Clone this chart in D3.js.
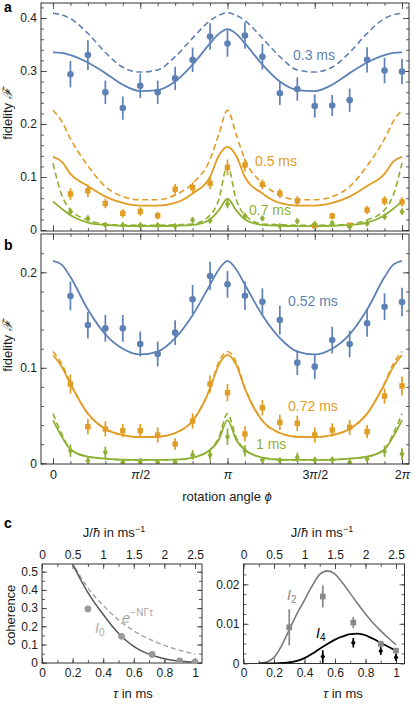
<!DOCTYPE html>
<html>
<head>
<meta charset="utf-8">
<script src="https://d3js.org/d3.v7.min.js"></script>
<style>
  body { margin: 0; background: #fff; }
  svg { display: block; font-family: "Liberation Sans", Arial, Helvetica, sans-serif; }
  .axis text { font-size: 12px; fill: #1a1a1a; font-family: "Liberation Sans", Arial, sans-serif; }
  .axis line { stroke: #333; stroke-width: 0.8; }
</style>
</head>
<body>
<div id="chart"></div>
<script>
const pi = Math.PI;

// rotation angle, in steps of pi/10
const pointSteps = [1, 2, 3, 4, 5, 6, 7, 8, 9, 10, 11, 12, 13, 14, 15, 16, 17, 18, 19, 20];
const lineSteps = [0, 0.5, 1, 2, 3, 4, 5, 6, 7, 8, 9, 9.5, 10, 10.5, 11, 12, 13, 14, 15, 16, 17, 18, 19, 19.5, 20];
const phiTicks = [0, 5, 10, 15, 20];
const phiLabels = [["0", "", ""], ["", "π", "/2"], ["", "π", ""], ["3", "π", "/2"], ["2", "π", ""]];

// panel a: 0.3 ms
const aBlue = [0.294, 0.330, 0.260, 0.230, 0.272, 0.260, 0.286, 0.321, 0.365, 0.352, 0.367, 0.327, 0.258, 0.266, 0.234, 0.235, 0.245, 0.321, 0.301, 0.299];
const aBlueErr = [0.025, 0.028, 0.022, 0.022, 0.023, 0.022, 0.022, 0.023, 0.025, 0.025, 0.025, 0.024, 0.022, 0.022, 0.022, 0.020, 0.022, 0.024, 0.024, 0.024];
const aBlueFit = [0.335, 0.334, 0.330, 0.316, 0.296, 0.274, 0.262, 0.264, 0.280, 0.312, 0.352, 0.370, 0.379, 0.370, 0.352, 0.312, 0.280, 0.264, 0.262, 0.274, 0.296, 0.316, 0.330, 0.334, 0.335];
const aBlueNoLoss = [0.409, 0.406, 0.399, 0.371, 0.335, 0.307, 0.298, 0.302, 0.327, 0.362, 0.395, 0.405, 0.410, 0.405, 0.395, 0.362, 0.327, 0.302, 0.298, 0.307, 0.335, 0.371, 0.399, 0.406, 0.409];
// panel a: 0.5 ms
const aOrange = [0.068, 0.074, 0.050, 0.0315, 0.035, 0.027, 0.077, 0.080, 0.088, 0.118, 0.1226, 0.086, 0.069, 0.055, 0.008, 0.0264, 0.009, 0.0377, 0.055, 0.053];
const aOrangeErr = [0.011, 0.012, 0.009, 0.008, 0.008, 0.007, 0.010, 0.010, 0.011, 0.015, 0.012, 0.009, 0.009, 0.009, 0.004, 0.006, 0.004, 0.008, 0.009, 0.009];
const aOrangeFit = [0.138, 0.129, 0.106, 0.083, 0.063, 0.051, 0.046, 0.046, 0.051, 0.069, 0.100, 0.140, 0.157, 0.140, 0.100, 0.069, 0.051, 0.046, 0.046, 0.051, 0.063, 0.083, 0.106, 0.129, 0.138];
const aOrangeNoLoss = [0.226, 0.205, 0.172, 0.121, 0.082, 0.063, 0.057, 0.057, 0.066, 0.088, 0.133, 0.180, 0.226, 0.180, 0.133, 0.088, 0.066, 0.057, 0.057, 0.063, 0.082, 0.121, 0.172, 0.205, 0.226];
// panel a: 0.7 ms
const aGreen = [0.0346, 0.022, 0.0094, 0.0094, 0.009, 0.009, 0.0075, 0.019, 0.0176, 0.049, 0.0264, 0.022, 0.0075, 0.0165, 0.011, 0.013, 0.0063, 0.012, 0.025, 0.0346];
const aGreenErr = [0.006, 0.006, 0.004, 0.004, 0.004, 0.004, 0.004, 0.005, 0.005, 0.008, 0.005, 0.005, 0.004, 0.005, 0.005, 0.005, 0.004, 0.004, 0.005, 0.006];
const aGreenFit = [0.054, 0.040, 0.028, 0.014, 0.0095, 0.0078, 0.0075, 0.0075, 0.008, 0.0095, 0.020, 0.037, 0.059, 0.037, 0.020, 0.0095, 0.008, 0.0075, 0.0075, 0.0078, 0.0095, 0.014, 0.028, 0.040, 0.054];
const aGreenNoLoss = [0.126, 0.066, 0.038, 0.019, 0.0113, 0.0095, 0.009, 0.009, 0.0098, 0.0113, 0.028, 0.057, 0.122, 0.057, 0.028, 0.0113, 0.0098, 0.009, 0.009, 0.0095, 0.0113, 0.019, 0.038, 0.066, 0.126];

// panel b: 0.52 ms
const bBlue = [0.1752, 0.1448, 0.1413, 0.1413, 0.1249, 0.1145, 0.1368, 0.1717, 0.1961, 0.1874, 0.1755, 0.1692, 0.150, 0.1054, 0.1012, 0.129, 0.1249, 0.1466, 0.164, 0.1689];
const bBlueErr = [0.015, 0.014, 0.014, 0.014, 0.013, 0.013, 0.013, 0.015, 0.015, 0.014, 0.015, 0.014, 0.015, 0.013, 0.013, 0.014, 0.014, 0.014, 0.014, 0.015];
const bBlueFit = [0.212, 0.208, 0.195, 0.161, 0.135, 0.120, 0.114, 0.117, 0.131, 0.155, 0.187, 0.203, 0.212, 0.203, 0.187, 0.155, 0.131, 0.117, 0.114, 0.120, 0.135, 0.161, 0.195, 0.208, 0.212];
// panel b: 0.72 ms
const bOrange = [0.083, 0.0384, 0.036, 0.0342, 0.0342, 0.0296, 0.0202, 0.0443, 0.083, 0.074, 0.0307, 0.0582, 0.0429, 0.0419, 0.0296, 0.0349, 0.0377, 0.0331, 0.0705, 0.081];
const bOrangeErr = [0.010, 0.008, 0.008, 0.007, 0.007, 0.008, 0.006, 0.008, 0.009, 0.009, 0.008, 0.008, 0.008, 0.008, 0.008, 0.007, 0.008, 0.007, 0.008, 0.010];
const bOrangeFit = [0.1134, 0.101, 0.083, 0.052, 0.036, 0.0296, 0.0275, 0.0278, 0.0317, 0.0445, 0.078, 0.103, 0.1134, 0.103, 0.078, 0.0445, 0.0317, 0.0278, 0.0275, 0.0296, 0.036, 0.052, 0.083, 0.101, 0.1134];
const bOrangeNoLoss = [0.117, 0.104, 0.084, 0.052, 0.036, 0.0296, 0.0275, 0.0278, 0.0317, 0.0445, 0.079, 0.106, 0.117, 0.106, 0.079, 0.0445, 0.0317, 0.0278, 0.0275, 0.0296, 0.036, 0.052, 0.084, 0.104, 0.117];
// panel b: 1 ms
const bGreen = [0.0132, 0.0028, 0.0115, 0.001, 0.001, 0.001, 0.001, 0.0087, 0.0087, 0.0279, 0.013, 0.0035, 0.003, 0.0063, 0.0035, 0.0038, 0.001, 0.0045, 0.0125, 0.0098];
const bGreenErr = [0.0066, 0.003, 0.006, 0.002, 0.002, 0.002, 0.002, 0.005, 0.006, 0.0087, 0.006, 0.003, 0.003, 0.005, 0.003, 0.003, 0.002, 0.003, 0.006, 0.006];
const bGreenFit = [0.0453, 0.028, 0.0145, 0.0069, 0.0049, 0.0037, 0.0035, 0.0035, 0.0038, 0.006, 0.0139, 0.0244, 0.0453, 0.0244, 0.0139, 0.006, 0.0038, 0.0035, 0.0035, 0.0037, 0.0049, 0.0069, 0.0145, 0.028, 0.0453];
const bGreenNoLoss = [0.052, 0.031, 0.015, 0.0069, 0.0049, 0.0037, 0.0035, 0.0035, 0.0038, 0.006, 0.0142, 0.027, 0.052, 0.027, 0.0142, 0.006, 0.0038, 0.0035, 0.0035, 0.0037, 0.0049, 0.0069, 0.015, 0.031, 0.052];

// panel c, left: coherence
const tauPoints = [0.3, 0.52, 0.72, 0.9, 1.0];
const i0Points = [0.295, 0.145, 0.045, 0.01, 0.003];
const tauLine = [0.19, 0.25, 0.3, 0.35, 0.4, 0.45, 0.5, 0.55, 0.6, 0.65, 0.7, 0.75, 0.8, 0.85, 0.9, 0.95, 1.0];
const i0Fit = [0.56, 0.46, 0.385, 0.322, 0.265, 0.21, 0.162, 0.122, 0.09, 0.065, 0.047, 0.033, 0.022, 0.014, 0.009, 0.005, 0.003];
const decayLine = [0.56, 0.475, 0.41, 0.36, 0.315, 0.273, 0.235, 0.203, 0.175, 0.15, 0.13, 0.112, 0.095, 0.081, 0.068, 0.057, 0.048];

// panel c, right: I2 and I4
const tauLine2 = [0.1, 0.15, 0.2, 0.25, 0.3, 0.35, 0.4, 0.45, 0.5, 0.55, 0.6, 0.65, 0.7, 0.75, 0.8, 0.85, 0.9, 0.95, 1.0];
const i2Fit = [0, 0.0003, 0.0015, 0.0045, 0.0085, 0.0125, 0.016, 0.0196, 0.0225, 0.0234, 0.0226, 0.0203, 0.0177, 0.015, 0.0125, 0.0102, 0.0082, 0.0064, 0.0047];
const i4Fit = [0, 0, 0, 0.0001, 0.0002, 0.0006, 0.0013, 0.0024, 0.0037, 0.0049, 0.006, 0.0068, 0.0074, 0.0075, 0.0071, 0.0062, 0.0052, 0.0042, 0.0032];
const i2Points = [0.0091, 0.0169, 0.0103, 0.0049, 0.0032];
const i2Err = [0.0046, 0.0028, 0.0014, 0.0008, 0.0007];
const tauPoints4 = [0.52, 0.72, 0.9, 1.0];
const i4Points = [0.0017, 0.0052, 0.0031, 0.0015];
const i4Err = [0.0016, 0.0012, 0.001, 0.0009];

const blue = "#5e81b5", orange = "#e19c24", green = "#8fb032";

const svg = d3.select("#chart").append("svg")
  .attr("width", 415)
  .attr("height", 706);

// draw ticks of one side with a d3 axis, domain line removed
function ticks(axisFn, scale, transform, values, size, format, pad) {
  const axis = axisFn(scale)
    .tickValues(values)
    .tickSize(size)
    .tickPadding(pad || 4)
    .tickFormat(format || (() => ""));
  const g = svg.append("g").attr("class", "axis").attr("transform", transform).call(axis);
  g.select(".domain").remove();
  return g;
}

function frame(box) {
  svg.append("rect")
    .attr("x", box.left).attr("y", box.top)
    .attr("width", box.right - box.left).attr("height", box.bottom - box.top)
    .attr("fill", "none").attr("stroke", "#333").attr("stroke-width", 1);
}

function clip(id, box) {
  svg.append("clipPath").attr("id", id).append("rect")
    .attr("x", box.left).attr("y", box.top)
    .attr("width", box.right - box.left).attr("height", box.bottom - box.top);
}

const diamond = "M0,-3.4L2.6,0L0,3.4L-2.6,0Z";

function marker(g, kind, cx, cy, color, s) {
  s = s || 1;
  if (kind === "circle") {
    g.append("circle").attr("cx", cx).attr("cy", cy).attr("r", 3.3 * s).attr("fill", color);
  } else if (kind === "square") {
    g.append("rect").attr("x", cx - 2.7 * s).attr("y", cy - 2.7 * s)
      .attr("width", 5.4 * s).attr("height", 5.4 * s).attr("fill", color);
  } else {
    g.append("path").attr("d", diamond)
      .attr("transform", `translate(${cx},${cy}) scale(${s})`).attr("fill", color);
  }
}

// ---------- panels a and b ----------
const xPhi = d3.scaleLinear().domain([0, 2 * pi]).range([53, 402]);
const phi = s => xPhi(s * pi / 10);

function phiPanel(box, y, yMajor, yMinor, series, withLabels, clipId) {
  const allSteps = d3.range(0, 21);
  const b = ticks(d3.axisBottom, xPhi, `translate(0,${box.bottom})`, phiTicks.map(s => s * pi / 10), -6, null, 6);
  ticks(d3.axisBottom, xPhi, `translate(0,${box.bottom})`, allSteps.map(s => s * pi / 10), -3);
  ticks(d3.axisTop, xPhi, `translate(0,${box.top})`, phiTicks.map(s => s * pi / 10), -6);
  ticks(d3.axisTop, xPhi, `translate(0,${box.top})`, allSteps.map(s => s * pi / 10), -3);
  ticks(d3.axisLeft, y, `translate(${box.left},0)`, yMajor, -6, d3.format("~g"), 4);
  ticks(d3.axisLeft, y, `translate(${box.left},0)`, yMinor, -3);
  ticks(d3.axisRight, y, `translate(${box.right},0)`, yMajor, -6);
  ticks(d3.axisRight, y, `translate(${box.right},0)`, yMinor, -3);

  if (withLabels) {
    b.selectAll(".tick text").each(function(d, i) {
      const t = d3.select(this).style("font-size", "12.5px");
      t.append("tspan").text(phiLabels[i][0]);
      t.append("tspan").attr("font-style", "italic").text(phiLabels[i][1]);
      t.append("tspan").text(phiLabels[i][2]);
    });
  }

  clip(clipId, box);
  const g = svg.append("g").attr("clip-path", `url(#${clipId})`);
  const line = d3.line()
    .x((d, i) => phi(lineSteps[i]))
    .y(d => y(d))
    .curve(d3.curveMonotoneX);

  series.forEach(s => {
    if (s.noLoss) {
      g.append("path").datum(s.noLoss).attr("d", line)
        .attr("fill", "none").attr("stroke", s.color).attr("stroke-width", 1.6)
        .attr("stroke-dasharray", "6,3.5");
    }
    g.append("path").datum(s.fit).attr("d", line)
      .attr("fill", "none").attr("stroke", s.color).attr("stroke-width", 1.8);
  });
  series.forEach(s => {
    s.points.forEach((v, i) => {
      const cx = phi(pointSteps[i]);
      g.append("line")
        .attr("x1", cx).attr("x2", cx)
        .attr("y1", y(v - s.err[i])).attr("y2", y(v + s.err[i]))
        .attr("stroke", s.color).attr("stroke-width", 1.7);
      marker(g, s.marker, cx, y(v), s.color);
    });
  });
}

// panel a
const boxA = { left: 41, right: 409, top: 3, bottom: 231 };
const yA = d3.scaleLinear().domain([0, 0.4]).range([230, 18]);
phiPanel(boxA, yA, [0, 0.1, 0.2, 0.3, 0.4], d3.range(0, 0.421, 0.02), [
  { fit: aBlueFit, noLoss: aBlueNoLoss, points: aBlue, err: aBlueErr, color: blue, marker: "circle" },
  { fit: aOrangeFit, noLoss: aOrangeNoLoss, points: aOrange, err: aOrangeErr, color: orange, marker: "square" },
  { fit: aGreenFit, noLoss: aGreenNoLoss, points: aGreen, err: aGreenErr, color: green, marker: "diamond" }
], false, "clipA");

// panel b
const boxB = { left: 41, right: 409, top: 234, bottom: 464 };
const yB = d3.scaleLinear().domain([0, 0.2]).range([463.3, 272.3]);
phiPanel(boxB, yB, [0, 0.1, 0.2], d3.range(0, 0.221, 0.02), [
  { fit: bBlueFit, points: bBlue, err: bBlueErr, color: blue, marker: "circle" },
  { fit: bOrangeFit, noLoss: bOrangeNoLoss, points: bOrange, err: bOrangeErr, color: orange, marker: "square" },
  { fit: bGreenFit, noLoss: bGreenNoLoss, points: bGreen, err: bGreenErr, color: green, marker: "diamond" }
], true, "clipB");

frame(boxA);
frame(boxB);

// series labels
const seriesLabels = [
  { text: "0.3 ms", x: 293, y: 60, color: blue },
  { text: "0.5 ms", x: 255, y: 166, color: orange },
  { text: "0.7 ms", x: 249, y: 215, color: green },
  { text: "0.52 ms", x: 288, y: 306, color: blue },
  { text: "0.72 ms", x: 288, y: 411, color: orange },
  { text: "1 ms", x: 256, y: 449, color: green }
];
svg.selectAll(".serieslabel")
  .data(seriesLabels)
  .enter()
  .append("text")
  .attr("x", d => d.x).attr("y", d => d.y)
  .attr("fill", d => d.color)
  .style("font-size", "14px")
  .text(d => d.text);

// axis titles
function yTitle(x, y, parts) {
  const t = svg.append("text")
    .attr("transform", `translate(${x},${y}) rotate(-90)`)
    .attr("text-anchor", "middle")
    .style("font-size", "13px").attr("fill", "#1a1a1a");
  parts.forEach(p => t.append("tspan").attr("font-style", p[1] ? "italic" : null).text(p[0]));
}
yTitle(12, 114, [["fidelity "], ["ℱ", true]]);
yTitle(12, 346, [["fidelity "], ["ℱ", true]]);

const xt = svg.append("text").attr("x", 227).attr("y", 501)
  .attr("text-anchor", "middle").style("font-size", "13px").attr("fill", "#1a1a1a");
xt.append("tspan").text("rotation angle ");
xt.append("tspan").attr("font-style", "italic").text("ϕ");

// panel letters
[["a", 12], ["b", 250], ["c", 528]].forEach(d => {
  svg.append("text").attr("x", 4).attr("y", d[1])
    .style("font-size", "14px").style("font-weight", "bold").text(d[0]);
});

// ---------- panel c ----------
const tauMajor = [0, 0.2, 0.4, 0.6, 0.8, 1];
const tauMinor = [0, 0.1, 0.2, 0.3, 0.4, 0.5, 0.6, 0.7, 0.8, 0.9, 1];
const jMajor = [0, 0.5, 1, 1.5, 2, 2.5];
const jMinor = [0, 0.25, 0.5, 0.75, 1, 1.25, 1.5, 1.75, 2, 2.25, 2.5];

function tauPanel(box, x, j, y, yMajor, yMinor, titleX, tauTitleX) {
  const fmt = d3.format("~g");
  ticks(d3.axisBottom, x, `translate(0,${box.bottom})`, tauMajor, -5, fmt, 5);
  ticks(d3.axisBottom, x, `translate(0,${box.bottom})`, tauMinor, -3);
  ticks(d3.axisTop, j, `translate(0,${box.top})`, jMajor, -5, fmt, 5);
  ticks(d3.axisTop, j, `translate(0,${box.top})`, jMinor, -3);
  ticks(d3.axisLeft, y, `translate(${box.left},0)`, yMajor, -5, fmt, 4);
  ticks(d3.axisLeft, y, `translate(${box.left},0)`, yMinor, -3);
  ticks(d3.axisRight, y, `translate(${box.right},0)`, yMajor, -5);
  ticks(d3.axisRight, y, `translate(${box.right},0)`, yMinor, -3);
  frame(box);

  const jt = svg.append("text").attr("x", titleX).attr("y", 537)
    .attr("text-anchor", "middle").style("font-size", "13px").attr("fill", "#1a1a1a");
  jt.append("tspan").text("J/");
  jt.append("tspan").attr("font-style", "italic").text("ħ");
  jt.append("tspan").text(" in ms");
  jt.append("tspan").attr("dy", -5).style("font-size", "9px").text("−1");

  const tt = svg.append("text").attr("x", tauTitleX).attr("y", 698)
    .attr("text-anchor", "middle").style("font-size", "13px").attr("fill", "#1a1a1a");
  tt.append("tspan").attr("font-style", "italic").text("τ");
  tt.append("tspan").text(" in ms");
}

// left: coherence
const boxC1 = { left: 42, right: 202, top: 564, bottom: 663 };
const xC1 = d3.scaleLinear().domain([0, 1]).range([42, 195]);
const jC1 = d3.scaleLinear().domain([0, 2.5]).range([42, 195]);
const yC1 = d3.scaleLinear().domain([0, 0.5]).range([662.7, 571.7]);
tauPanel(boxC1, xC1, jC1, yC1, [0, 0.1, 0.2, 0.3, 0.4, 0.5],
  [0, 0.05, 0.1, 0.15, 0.2, 0.25, 0.3, 0.35, 0.4, 0.45, 0.5], 114, 133);
yTitle(15, 615, [["coherence"]]);

clip("clipC1", boxC1);
const gC1 = svg.append("g").attr("clip-path", "url(#clipC1)");
const lineC1 = d3.line().x((d, i) => xC1(tauLine[i])).y(d => yC1(d)).curve(d3.curveMonotoneX);
gC1.append("path").datum(decayLine).attr("d", lineC1)
  .attr("fill", "none").attr("stroke", "#a8a8a8").attr("stroke-width", 1.5).attr("stroke-dasharray", "5,3");
gC1.append("path").datum(i0Fit).attr("d", lineC1)
  .attr("fill", "none").attr("stroke", "#555").attr("stroke-width", 1.5);
i0Points.forEach((v, i) => {
  gC1.append("circle").attr("cx", xC1(tauPoints[i])).attr("cy", yC1(v)).attr("r", 3.4).attr("fill", "#999");
});

const eLabel = svg.append("text").attr("x", 122).attr("y", 623).attr("fill", "#a8a8a8").style("font-size", "15px");
eLabel.append("tspan").attr("font-style", "italic").text("e");
eLabel.append("tspan").attr("dy", -7).style("font-size", "10px").text("−NΓτ");
const i0Label = svg.append("text").attr("x", 95).attr("y", 633).attr("fill", "#a8a8a8").style("font-size", "14px");
i0Label.append("tspan").attr("font-style", "italic").text("I");
i0Label.append("tspan").attr("dy", 3).style("font-size", "10px").text("0");

// right: I2 and I4
const boxC2 = { left: 243.5, right: 404.5, top: 564, bottom: 663.5 };
const xC2 = d3.scaleLinear().domain([0, 1]).range([243.5, 396]);
const jC2 = d3.scaleLinear().domain([0, 2.5]).range([243.5, 396]);
const yC2 = d3.scaleLinear().domain([0, 0.02]).range([663.3, 584.3]);
tauPanel(boxC2, xC2, jC2, yC2, [0, 0.01, 0.02],
  [0, 0.0025, 0.005, 0.0075, 0.01, 0.0125, 0.015, 0.0175, 0.02, 0.0225], 322, 343);

clip("clipC2", boxC2);
const gC2 = svg.append("g").attr("clip-path", "url(#clipC2)");
const lineC2 = d3.line().x((d, i) => xC2(tauLine2[i])).y(d => yC2(d)).curve(d3.curveMonotoneX);
gC2.append("path").datum(i2Fit).attr("d", lineC2)
  .attr("fill", "none").attr("stroke", "#7a7a7a").attr("stroke-width", 1.6);
gC2.append("path").datum(i4Fit).attr("d", lineC2)
  .attr("fill", "none").attr("stroke", "#000").attr("stroke-width", 1.8);
i2Points.forEach((v, i) => {
  const cx = xC2(tauPoints[i]);
  gC2.append("line").attr("x1", cx).attr("x2", cx)
    .attr("y1", yC2(v - i2Err[i])).attr("y2", yC2(v + i2Err[i]))
    .attr("stroke", "#888").attr("stroke-width", 1.7);
  marker(gC2, "square", cx, yC2(v), "#888", 1.05);
});
i4Points.forEach((v, i) => {
  const cx = xC2(tauPoints4[i]);
  gC2.append("line").attr("x1", cx).attr("x2", cx)
    .attr("y1", yC2(v - i4Err[i])).attr("y2", yC2(v + i4Err[i]))
    .attr("stroke", "#000").attr("stroke-width", 1.7);
  marker(gC2, "diamond", cx, yC2(v), "#000", 0.9);
});

const i2Label = svg.append("text").attr("x", 287).attr("y", 600).attr("fill", "#888").style("font-size", "14px");
i2Label.append("tspan").attr("font-style", "italic").text("I");
i2Label.append("tspan").attr("dy", 3).style("font-size", "10px").text("2");
const i4Label = svg.append("text").attr("x", 316).attr("y", 638).attr("fill", "#000").style("font-size", "14px");
i4Label.append("tspan").attr("font-style", "italic").text("I");
i4Label.append("tspan").attr("dy", 3).style("font-size", "10px").text("4");
</script>
</body>
</html>
